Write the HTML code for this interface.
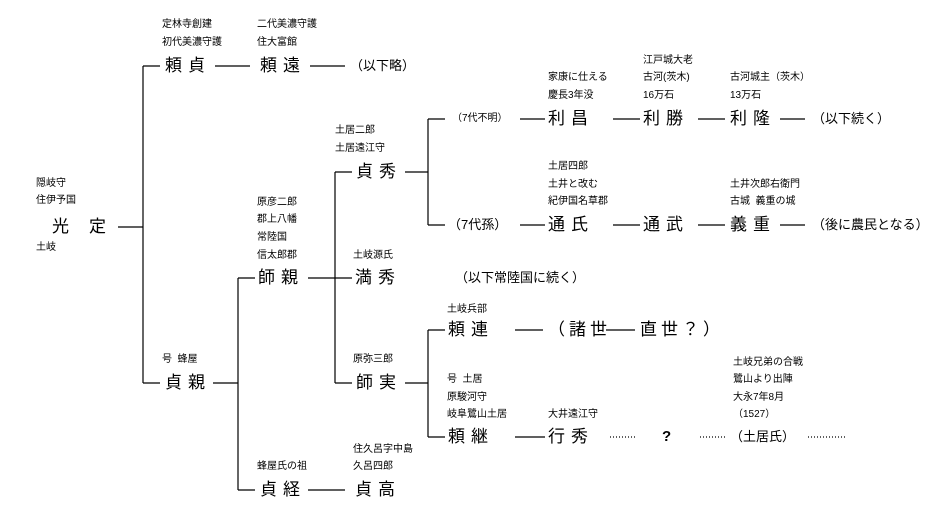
<!DOCTYPE html>
<html><head><meta charset="utf-8"><style>
body{margin:0;background:#fff;width:934px;height:517px;position:relative;overflow:hidden;font-family:"Liberation Sans","Noto Sans CJK JP",sans-serif;color:#000}
.s{position:absolute;font-size:10px;line-height:12px;transform:translateY(-50%);white-space:nowrap}
.n{position:absolute;font-size:17px;line-height:20px;letter-spacing:6px;transform:translateY(-50%);white-space:nowrap}
.p{position:absolute;font-size:13px;line-height:16px;transform:translateY(-50%);white-space:nowrap}
svg{position:absolute;left:0;top:0}
</style></head><body>
<svg width="934" height="517" stroke="#000" stroke-width="1.2" fill="none">
<path d="M118 227H143M143 66V383M143 66H160M143 383H160"/>
<path d="M215 66H250M310 66H345"/>
<path d="M213 383H238M238 278V490M238 278H255M238 490H255"/>
<path d="M308 278H352M335 172V383M335 172H352M335 383H352"/>
<path d="M405 172H428M428 119V225M428 119H445M428 225H445"/>
<path d="M520 119H545M613 119H640M698 119H725M780 119H805"/>
<path d="M520 225H545M613 225H640M698 225H725M780 225H805"/>
<path d="M405 383H428M428 330V437M428 330H445M428 437H445"/>
<path d="M515 330H543M606 330H635M515 437H545M308 490H345"/>
<path d="M610 437H637M700 437H725M808 437H845" stroke-dasharray="1 2"/>
</svg>
<div class="s" style="left:36px;top:184px">隠岐守</div>
<div class="s" style="left:36px;top:201px">住伊予国</div>
<div class="n" style="left:52px;top:227px;letter-spacing:20px">光定</div>
<div class="s" style="left:36px;top:248px">土岐</div>

<div class="s" style="left:162px;top:25px">定林寺創建</div>
<div class="s" style="left:162px;top:43px">初代美濃守護</div>
<div class="n" style="left:165px;top:66px">頼貞</div>
<div class="s" style="left:257px;top:25px">二代美濃守護</div>
<div class="s" style="left:257px;top:43px">住大富館</div>
<div class="n" style="left:260px;top:66px">頼遠</div>
<div class="p" style="left:350px;top:66px">（以下略）</div>

<div class="s" style="left:162px;top:360px">号&nbsp; 蜂屋</div>
<div class="n" style="left:165px;top:383px">貞親</div>

<div class="s" style="left:257px;top:203px">原彦二郎</div>
<div class="s" style="left:257px;top:220px">郡上八幡</div>
<div class="s" style="left:257px;top:238px">常陸国</div>
<div class="s" style="left:257px;top:256px">信太郎郡</div>
<div class="n" style="left:258px;top:278px">師親</div>

<div class="s" style="left:335px;top:131px">土居二郎</div>
<div class="s" style="left:335px;top:149px">土居遠江守</div>
<div class="n" style="left:356px;top:172px">貞秀</div>

<div class="s" style="left:353px;top:256px">土岐源氏</div>
<div class="n" style="left:355px;top:278px">満秀</div>
<div class="p" style="left:455px;top:278px">（以下常陸国に続く）</div>

<div class="s" style="left:353px;top:360px">原弥三郎</div>
<div class="n" style="left:356px;top:383px">師実</div>

<div class="s" style="left:452px;top:119px">（7代不明）</div>
<div class="s" style="left:548px;top:78px">家康に仕える</div>
<div class="s" style="left:548px;top:96px">慶長3年没</div>
<div class="n" style="left:548px;top:119px">利昌</div>
<div class="s" style="left:643px;top:61px">江戸城大老</div>
<div class="s" style="left:643px;top:78px">古河(茨木)</div>
<div class="s" style="left:643px;top:96px">16万石</div>
<div class="n" style="left:643px;top:119px">利勝</div>
<div class="s" style="left:730px;top:78px">古河城主（茨木）</div>
<div class="s" style="left:730px;top:96px">13万石</div>
<div class="n" style="left:730px;top:119px">利隆</div>
<div class="p" style="left:812px;top:119px">（以下続く）</div>

<div class="p" style="left:448px;top:225px">（7代孫）</div>
<div class="s" style="left:548px;top:167px">土居四郎</div>
<div class="s" style="left:548px;top:185px">土井と改む</div>
<div class="s" style="left:548px;top:202px">紀伊国名草郡</div>
<div class="n" style="left:548px;top:225px">通氏</div>
<div class="n" style="left:643px;top:225px">通武</div>
<div class="s" style="left:730px;top:185px">土井次郎右衛門</div>
<div class="s" style="left:730px;top:202px">古城&nbsp; 義重の城</div>
<div class="n" style="left:730px;top:225px">義重</div>
<div class="p" style="left:812px;top:225px">（後に農民となる）</div>

<div class="s" style="left:447px;top:310px">土岐兵部</div>
<div class="n" style="left:448px;top:330px">頼連</div>
<div class="n" style="left:548px;top:330px;letter-spacing:4px">（諸世</div>
<div class="n" style="left:640px;top:330px;letter-spacing:4px">直世？）</div>

<div class="s" style="left:447px;top:380px">号&nbsp; 土居</div>
<div class="s" style="left:447px;top:398px">原駿河守</div>
<div class="s" style="left:447px;top:415px">岐阜鷺山土居</div>
<div class="n" style="left:448px;top:437px">頼継</div>
<div class="s" style="left:548px;top:415px">大井遠江守</div>
<div class="n" style="left:548px;top:437px">行秀</div>
<div class="p" style="left:662px;top:437px;font-weight:bold;font-size:15px">?</div>
<div class="p" style="left:730px;top:437px">（土居氏）</div>
<div class="s" style="left:733px;top:363px">土岐兄弟の合戦</div>
<div class="s" style="left:733px;top:380px">鷺山より出陣</div>
<div class="s" style="left:733px;top:398px">大永7年8月</div>
<div class="s" style="left:733px;top:415px">（1527）</div>

<div class="s" style="left:257px;top:467px">蜂屋氏の祖</div>
<div class="n" style="left:260px;top:490px">貞経</div>
<div class="s" style="left:353px;top:450px">住久呂字中島</div>
<div class="s" style="left:353px;top:467px">久呂四郎</div>
<div class="n" style="left:355px;top:490px">貞高</div>
</body></html>
